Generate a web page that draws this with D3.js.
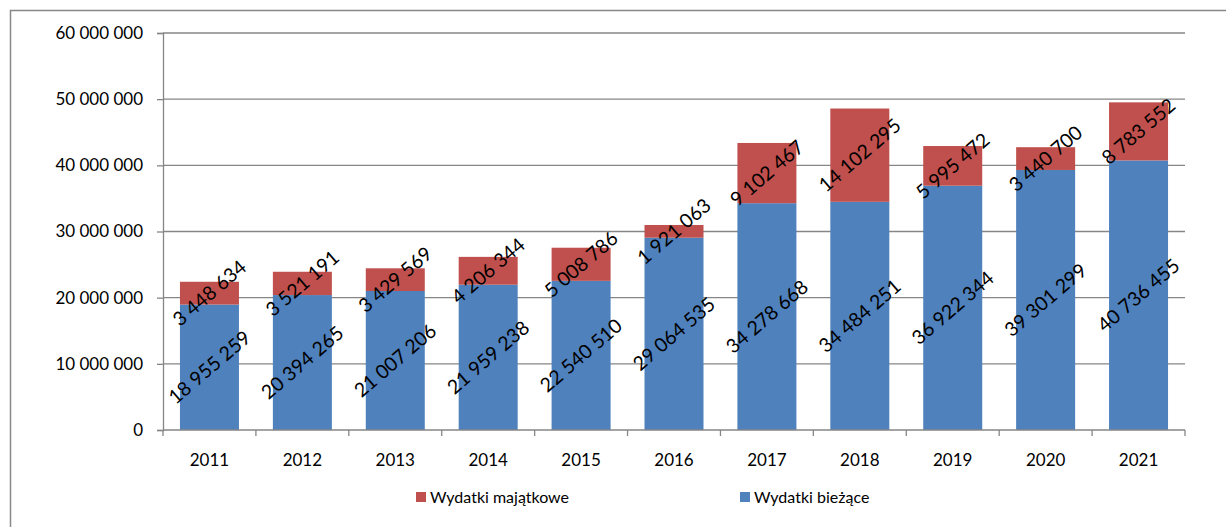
<!DOCTYPE html>
<html lang="pl">
<head>
<meta charset="UTF-8">
<title>Wydatki</title>
<script src="https://d3js.org/d3.v7.min.js"></script>
<style>
    body { margin: 0; background: #fff; }
    svg text { font-family: Lato, "Open Sans", sans-serif; fill: #000; }
</style>
</head>
<body>
<div id="chart"></div>
<script>
    // Data
    const years = ["2011", "2012", "2013", "2014", "2015", "2016", "2017", "2018", "2019", "2020", "2021"];
    const biezace = [18955259, 20394265, 21007206, 21959238, 22540510, 29064535, 34278668, 34484251, 36922344, 39301299, 40736455];
    const majatkowe = [3448634, 3521191, 3429569, 4206344, 5008786, 1921063, 9102467, 14102295, 5995472, 3440700, 8783552];
    const yTicks = [0, 10000000, 20000000, 30000000, 40000000, 50000000, 60000000];

    const seriesNames = ["Wydatki bieżące", "Wydatki majątkowe"];
    const colors = { "Wydatki bieżące": "#4F81BD", "Wydatki majątkowe": "#C0504D" };

    const W = 1226, H = 527;
    const plot = { left: 163, right: 1185, top: 33, bottom: 430 };

    const svg = d3.select("#chart").append("svg")
        .attr("width", W).attr("height", H);

    // outer chart border
    svg.append("rect")
        .attr("x", 10.5).attr("y", 10.5)
        .attr("width", W).attr("height", H)
        .attr("fill", "none").attr("stroke", "#888").attr("stroke-width", 1.5);

    const rows = years.map((y, i) => ({ year: y, "Wydatki bieżące": biezace[i], "Wydatki majątkowe": majatkowe[i] }));
    const stacked = d3.stack().keys(seriesNames)(rows);

    const x = d3.scaleBand().domain(years).range([plot.left, plot.right]).paddingInner(0.365).paddingOuter(0.1825);
    const xCat = d3.scaleBand().domain(years).range([plot.left, plot.right]);
    const y = d3.scaleLinear().domain([0, 60000000]).range([plot.bottom, plot.top]);

    const fmt = v => d3.format(",d")(v).replace(/,/g, " ");

    // gridlines
    svg.append("g").selectAll("line").data(yTicks.filter(t => t > 0)).join("line")
        .attr("x1", plot.left).attr("x2", plot.right)
        .attr("y1", d => y(d)).attr("y2", d => y(d))
        .attr("stroke", "#868686").attr("stroke-width", 1.3);

    // y axis
    const yAxis = svg.append("g").attr("transform", `translate(${plot.left},0)`)
        .call(d3.axisLeft(y).tickValues(yTicks).tickSize(6).tickPadding(14).tickFormat(fmt));
    yAxis.select(".domain").attr("stroke", "#868686").attr("stroke-width", 1.3);
    yAxis.selectAll(".tick line").attr("stroke", "#868686").attr("stroke-width", 1.3);
    yAxis.selectAll("text").style("font-size", "17px");

    // bars
    svg.append("g").selectAll("g").data(stacked).join("g")
        .attr("fill", d => colors[d.key])
        .selectAll("rect").data(d => d).join("rect")
        .attr("x", d => x(d.data.year))
        .attr("width", x.bandwidth())
        .attr("y", d => y(d[1]))
        .attr("height", d => y(d[0]) - y(d[1]));

    // x axis
    const xAxis = svg.append("g").attr("transform", `translate(0,${plot.bottom})`);
    xAxis.append("line")
        .attr("x1", plot.left).attr("x2", plot.right)
        .attr("stroke", "#868686").attr("stroke-width", 1.3);
    const bounds = years.map(d => xCat(d)).concat([plot.right]);
    xAxis.selectAll(".tk").data(bounds).join("line").attr("class", "tk")
        .attr("x1", d => d).attr("x2", d => d)
        .attr("y1", 0).attr("y2", 6)
        .attr("stroke", "#868686").attr("stroke-width", 1.3);
    xAxis.selectAll("text").data(years).join("text")
        .attr("x", d => xCat(d) + xCat.bandwidth() / 2)
        .attr("y", 36)
        .attr("text-anchor", "middle")
        .style("font-size", "17px")
        .text(d => d);

    // data labels, rotated
    svg.append("g").selectAll("g").data(stacked).join("g")
        .selectAll("text").data(d => d).join("text")
        .attr("transform", d => {
            const cx = x(d.data.year) + x.bandwidth() / 2;
            const cy = (y(d[0]) + y(d[1])) / 2;
            return `translate(${cx},${cy}) rotate(-40.5)`;
        })
        .attr("text-anchor", "middle")
        .attr("dy", "0.35em")
        .style("font-size", "19.5px")
        .text(d => fmt(d[1] - d[0]));

    // legend
    const legendItems = [
        { name: "Wydatki majątkowe", x: 416 },
        { name: "Wydatki bieżące", x: 740 }
    ];
    const legend = svg.append("g");
    legendItems.forEach(item => {
        legend.append("rect")
            .attr("x", item.x).attr("y", 492)
            .attr("width", 10).attr("height", 10)
            .attr("fill", colors[item.name]);
        legend.append("text")
            .attr("x", item.x + 14).attr("y", 503)
            .style("font-size", "16px")
            .text(item.name);
    });
</script>
</body>
</html>
